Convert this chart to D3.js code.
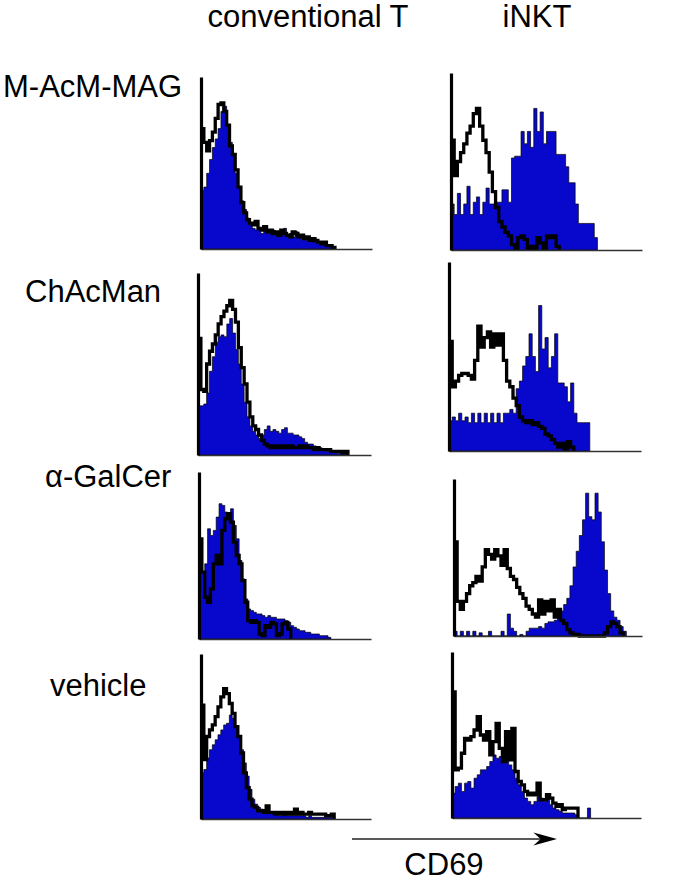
<!DOCTYPE html>
<html>
<head>
<meta charset="utf-8">
<script src="https://cdn.jsdelivr.net/npm/d3@7"></script>
<style>
  html, body { margin: 0; padding: 0; background: #fff; }
  svg { display: block; }
  text { font-family: "Liberation Sans", Arial, Helvetica, sans-serif; fill: #000; }
</style>
</head>
<body>
<div id="chart"></div>
<script>
// ---------- categories / labels ----------
const columnLabels = ["conventional T", "iNKT"];
const rowLabels = ["M-AcM-MAG", "ChAcMan", "\u03b1-GalCer", "vehicle"];
const axisLabel = "CD69";
const nBins = 60; // channels shown along each CD69 axis (binned)

// ---------- series values (% of panel full scale, one value per bin) ----------
// row 1 : M-AcM-MAG
const convT_MAcMMAG_stim = [34, 36, 44, 52, 59, 64, 70, 80, 83, 72, 62, 54, 44, 36, 28, 23, 18, 14, 12, 11, 12, 9, 11, 10, 9, 11, 8, 10, 9, 12, 8, 9, 7, 10, 8, 6, 7, 5, 6, 4, 5, 3, 4, 3, 2, 2, 1];
const convT_MAcMMAG_ctrl = [70, 62, 57, 63, 68, 76, 84, 85, 80, 72, 60, 55, 46, 36, 27, 21, 17, 15, 14, 16, 12, 11, 13, 10, 11, 9, 10, 8, 11, 9, 8, 7, 10, 9, 7, 8, 6, 7, 5, 6, 5, 4, 3, 4, 2, 2, 1];
const iNKT_MAcMMAG_stim = [26, 20, 32, 20, 26, 36, 20, 27, 30, 20, 27, 35, 26, 26, 27, 27, 34, 34, 27, 52, 53, 53, 67, 60, 67, 58, 80, 67, 78, 60, 67, 67, 67, 54, 54, 54, 47, 38, 38, 26, 15, 15, 15, 15, 15, 7];
const iNKT_MAcMMAG_ctrl = [62, 42, 50, 55, 60, 66, 70, 77, 80, 70, 62, 55, 44, 33, 24, 16, 13, 10, 8, 3, 1, 7, 8, 6, 1, 2, 1, 7, 4, 1, 8, 7, 8, 2];
// row 2 : ChAcMan
const convT_ChAcMan_stim = [27, 27, 28, 34, 46, 54, 62, 65, 66, 65, 72, 75, 67, 58, 50, 39, 29, 21, 16, 13, 11, 9, 11, 14, 16, 13, 14, 13, 12, 14, 15, 12, 12, 11, 11, 10, 9, 7, 6, 6, 5, 4, 4, 3, 2, 2, 2, 2, 1, 1, 2, 1];
const convT_ChAcMan_ctrl = [64, 36, 35, 50, 57, 61, 66, 72, 76, 79, 82, 85, 80, 73, 59, 48, 39, 29, 21, 16, 14, 11, 8, 6, 5, 4, 5, 4, 5, 4, 5, 4, 5, 4, 4, 5, 4, 5, 4, 4, 3, 4, 3, 3, 3, 3, 2, 2, 2, 2, 1, 2];
const iNKT_ChAcMan_stim = [16, 18, 16, 20, 16, 18, 15, 20, 15, 20, 15, 20, 15, 20, 15, 20, 15, 20, 20, 22, 20, 33, 37, 45, 50, 62, 50, 42, 77, 54, 60, 44, 50, 62, 36, 36, 34, 26, 36, 20, 15, 15, 15, 15];
const iNKT_ChAcMan_ctrl = [58, 34, 37, 40, 41, 41, 40, 38, 48, 66, 55, 60, 63, 55, 62, 56, 62, 48, 37, 34, 28, 24, 18, 16, 15, 16, 14, 15, 13, 12, 9, 8, 6, 4, 2, 4, 1, 5, 2];
// row 3 : alpha-GalCer
const convT_aGalCer_stim = [39, 40, 45, 66, 62, 65, 73, 81, 80, 76, 74, 78, 68, 60, 47, 36, 24, 18, 17, 16, 15, 15, 14, 13, 14, 13, 13, 12, 12, 12, 11, 10, 8, 7, 6, 5, 5, 4, 4, 3, 3, 3, 2, 2, 2, 1];
const convT_aGalCer_ctrl = [60, 40, 25, 22, 30, 45, 50, 45, 65, 72, 75, 70, 58, 50, 45, 35, 22, 11, 10, 11, 10, 3, 2, 8, 7, 10, 9, 2, 3, 9, 10, 6];
const iNKT_aGalCer_stim = [3, 0, 3, 0, 3, 0, 3, 0, 2, 0, 0, 3, 0, 0, 0, 3, 0, 14, 5, 3, 0, 1, 0, 3, 5, 5, 5, 6, 5, 8, 9, 9, 10, 12, 16, 20, 24, 32, 44, 54, 64, 74, 91, 76, 74, 91, 79, 60, 42, 27, 16, 12, 10, 6, 3];
const iNKT_aGalCer_ctrl = [60, 22, 17, 22, 27, 32, 34, 38, 35, 44, 55, 52, 49, 55, 51, 45, 55, 43, 38, 36, 31, 27, 24, 19, 17, 14, 12, 23, 14, 22, 16, 23, 12, 17, 10, 8, 4, 2, 1, 1, 0, 0, 0, 0, 0, 0, 0, 0, 2, 6, 9, 8, 6, 2];
// row 4 : vehicle
const convT_vehicle_stim = [28, 30, 37, 42, 45, 48, 51, 54, 57, 58, 63, 61, 56, 50, 42, 34, 26, 18, 12, 9, 7, 6, 5, 4, 4, 3, 3, 2, 2, 3, 2, 2, 2, 2, 2, 2, 2, 1, 2, 1, 1, 1, 1, 1, 1, 1, 1];
const convT_vehicle_ctrl = [69, 36, 50, 54, 57, 62, 68, 74, 79, 76, 70, 64, 56, 50, 40, 28, 19, 12, 8, 7, 5, 5, 4, 8, 4, 4, 3, 4, 3, 4, 3, 4, 3, 6, 3, 4, 3, 3, 4, 3, 3, 3, 3, 3, 2, 2, 3];
const iNKT_vehicle_stim = [15, 19, 21, 16, 21, 22, 18, 24, 26, 29, 29, 31, 34, 38, 36, 37, 41, 36, 32, 29, 24, 20, 16, 12, 10, 8, 10, 13, 12, 10, 14, 8, 6, 5, 4, 3, 3, 3, 3, 2, 0, 0, 0, 6];
const iNKT_vehicle_ctrl = [76, 29, 30, 39, 48, 47, 49, 53, 61, 50, 47, 52, 38, 46, 57, 42, 34, 52, 35, 54, 28, 22, 20, 16, 14, 15, 14, 21, 11, 11, 14, 12, 9, 7, 8, 5, 6, 6, 6, 6];

// ---------- panel table built from the arrays ----------
const panelSeries = [
  { row: 0, col: 0, stim: convT_MAcMMAG_stim, ctrl: convT_MAcMMAG_ctrl },
  { row: 0, col: 1, stim: iNKT_MAcMMAG_stim,  ctrl: iNKT_MAcMMAG_ctrl },
  { row: 1, col: 0, stim: convT_ChAcMan_stim, ctrl: convT_ChAcMan_ctrl },
  { row: 1, col: 1, stim: iNKT_ChAcMan_stim,  ctrl: iNKT_ChAcMan_ctrl },
  { row: 2, col: 0, stim: convT_aGalCer_stim, ctrl: convT_aGalCer_ctrl },
  { row: 2, col: 1, stim: iNKT_aGalCer_stim,  ctrl: iNKT_aGalCer_ctrl },
  { row: 3, col: 0, stim: convT_vehicle_stim, ctrl: convT_vehicle_ctrl },
  { row: 3, col: 1, stim: iNKT_vehicle_stim,  ctrl: iNKT_vehicle_ctrl }
];

// ---------- layout (pixels) ----------
const W = 685, H = 883;
const panelBoxes = [
  { left: 201, top: 77,  base: 249, right: 372 },
  { left: 451, top: 73,  base: 250, right: 642 },
  { left: 198, top: 273, base: 455, right: 371 },
  { left: 449, top: 262, base: 451, right: 641 },
  { left: 199, top: 472, base: 639, right: 371 },
  { left: 454, top: 479, base: 636, right: 642 },
  { left: 201, top: 654, base: 819, right: 371 },
  { left: 452, top: 652, base: 818, right: 641 }
];
const rowLabelPos = [ { x: 3, y: 97 }, { x: 25, y: 302 }, { x: 45, y: 487 }, { x: 50, y: 696 } ];
const colLabelPos = [ { x: 308, y: 27 }, { x: 537, y: 27 } ];
const blue = "#0808cc";

const svg = d3.select("#chart").append("svg")
  .attr("width", W).attr("height", H).attr("viewBox", `0 0 ${W} ${H}`);

columnLabels.forEach((t, i) => {
  svg.append("text").attr("x", colLabelPos[i].x).attr("y", colLabelPos[i].y)
    .attr("text-anchor", "middle").attr("font-size", 31).text(t);
});
rowLabels.forEach((t, i) => {
  svg.append("text").attr("x", rowLabelPos[i].x).attr("y", rowLabelPos[i].y)
    .attr("font-size", 31).text(t);
});

panelSeries.forEach((p, k) => {
  const b = panelBoxes[k];
  const x = d3.scaleLinear().domain([0, nBins]).range([b.left, b.right]);
  const y = d3.scaleLinear().domain([0, 100]).range([b.base, b.top]);
  const g = svg.append("g");

  const stepPts = arr => {
    const pts = arr.map((v, i) => [i, v]);
    pts.push([arr.length, arr[arr.length - 1]]);
    return pts;
  };

  // filled (stimulated) histogram
  const area = d3.area().curve(d3.curveStepAfter)
    .x(d => x(d[0])).y0(b.base).y1(d => y(d[1]));
  g.append("path").datum(stepPts(p.stim)).attr("d", area)
    .attr("fill", blue).attr("stroke", "#000").attr("stroke-width", 0.7);

  // open (control) histogram, thick black outline
  const line = d3.line().curve(d3.curveStepAfter).x(d => x(d[0])).y(d => y(d[1]));
  const cpts = stepPts(p.ctrl);
  cpts.push([p.ctrl.length, 0]);
  g.append("path").datum(cpts).attr("d", line)
    .attr("fill", "none").attr("stroke", "#000").attr("stroke-width", 3.3)
    .attr("stroke-linejoin", "miter");

  // axes built from the scales
  const xAxis = d3.axisBottom(x).tickValues([]).tickSizeOuter(0);
  const ax = g.append("g").attr("transform", `translate(0,${b.base})`).call(xAxis);
  ax.select(".domain").attr("stroke", "#333").attr("stroke-width", 1.3);
  const yAxis = d3.axisLeft(y).tickValues([]).tickSizeOuter(0);
  const ay = g.append("g").attr("transform", `translate(${b.left},0)`).call(yAxis);
  ay.select(".domain").attr("stroke", "#000").attr("stroke-width", 3.2);
});

// CD69 arrow + label
const arrowScale = d3.scaleLinear().domain([0, 1]).range([352, 557]);
const arrowY = 839;
svg.append("line").attr("x1", arrowScale(0)).attr("x2", arrowScale(0.95)).attr("y1", arrowY).attr("y2", arrowY)
  .attr("stroke", "#222").attr("stroke-width", 1.5);
svg.append("path")
  .attr("d", `M${arrowScale(1)},${arrowY} L${arrowScale(0.885)},${arrowY - 6.5} L${arrowScale(0.92)},${arrowY} L${arrowScale(0.885)},${arrowY + 6.5} Z`)
  .attr("fill", "#000");
svg.append("text").attr("x", 444).attr("y", 875).attr("text-anchor", "middle")
  .attr("font-size", 31).text(axisLabel);
</script>
</body>
</html>
